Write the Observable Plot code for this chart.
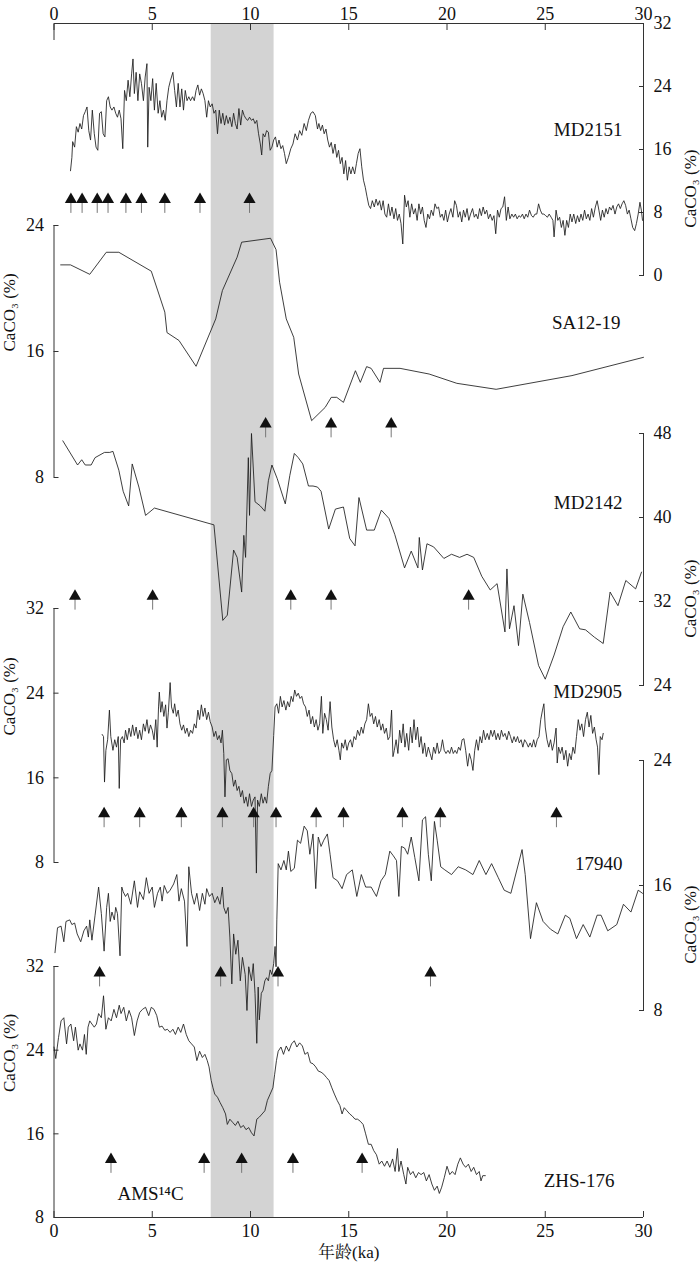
<!DOCTYPE html>
<html><head><meta charset="utf-8">
<script src="https://cdn.jsdelivr.net/npm/d3@7"></script>
<script src="https://cdn.jsdelivr.net/npm/@observablehq/plot@0.6"></script>
<style>
body{margin:0;background:#fff}
#chart{position:relative;width:700px;height:1266px;background:#fff}
#chart svg{position:absolute;left:0;top:0}
</style></head><body><div id="chart"></div>
<script>
// ---------------- DATA ----------------
const ageTicks = [0, 5, 10, 15, 20, 25, 30];
const bandAges = [[8, 11.2]];
const yTitle = "CaCO₃ (%)";
const xTitle = "年龄(ka)";

const md2151 = [[0.84,13.3],[0.91,15.0],[0.95,17.0],[1.05,16.3],[1.14,18.9],[1.23,18.2],[1.32,19.3],[1.41,18.6],[1.5,20.3],[1.59,20.8],[1.68,21.4],[1.77,18.4],[1.86,17.2],[1.95,21.0],[2.05,18.0],[2.14,16.3],[2.23,15.9],[2.32,20.6],[2.41,20.8],[2.5,18.0],[2.59,17.6],[2.68,22.2],[2.77,22.7],[2.86,21.4],[2.95,21.0],[3.05,21.4],[3.14,20.6],[3.23,20.1],[3.32,21.0],[3.41,19.9],[3.5,16.1],[3.59,23.5],[3.68,22.2],[3.77,24.8],[3.86,22.7],[3.95,25.6],[4.02,27.5],[4.09,23.1],[4.18,25.8],[4.27,22.2],[4.36,25.6],[4.45,24.4],[4.55,22.2],[4.64,25.2],[4.73,26.9],[4.77,16.3],[4.84,23.9],[4.93,22.2],[5.02,25.0],[5.11,21.0],[5.2,24.4],[5.3,20.6],[5.39,22.2],[5.48,20.1],[5.57,21.0],[5.66,19.7],[5.75,22.2],[5.84,23.9],[5.93,24.8],[6.05,25.8],[6.14,23.5],[6.23,21.4],[6.32,24.4],[6.41,21.4],[6.5,23.7],[6.59,21.0],[6.68,23.5],[6.77,22.2],[6.86,22.7],[6.95,22.2],[7.05,22.7],[7.14,22.2],[7.23,23.5],[7.32,24.2],[7.41,22.9],[7.5,23.7],[7.59,23.1],[7.68,22.2],[7.77,20.1],[7.86,22.2],[7.95,21.4],[8.05,21.8],[8.14,20.6],[8.23,21.0],[8.32,18.0],[8.41,21.0],[8.5,19.3],[8.59,20.6],[8.68,19.1],[8.77,20.3],[8.86,19.3],[8.95,20.1],[9.05,18.9],[9.14,20.6],[9.23,19.3],[9.32,18.6],[9.41,21.2],[9.5,19.1],[9.59,21.0],[9.68,20.3],[9.77,19.9],[9.86,19.7],[9.95,20.1],[10.05,19.7],[10.14,19.9],[10.23,19.3],[10.32,19.7],[10.41,18.0],[10.5,16.7],[10.57,15.3],[10.64,18.0],[10.73,17.6],[10.82,18.4],[10.91,18.2],[11.0,15.9],[11.09,16.3],[11.18,17.2],[11.27,17.6],[11.36,16.3],[11.45,17.2],[11.55,16.1],[11.64,16.5],[11.73,15.5],[11.82,14.2],[11.93,15.0],[12.05,16.1],[12.16,16.7],[12.27,18.0],[12.39,17.2],[12.5,18.4],[12.61,17.8],[12.73,19.3],[12.84,18.4],[12.95,19.7],[13.07,20.6],[13.18,20.8],[13.3,20.3],[13.41,18.6],[13.48,19.3],[13.57,18.4],[13.66,19.1],[13.75,18.0],[13.84,18.6],[13.93,17.2],[14.02,16.3],[14.11,16.9],[14.2,15.5],[14.3,16.7],[14.39,15.0],[14.48,15.9],[14.57,14.2],[14.66,15.0],[14.75,12.9],[14.84,14.6],[14.93,12.1],[15.02,13.8],[15.11,12.9],[15.2,13.8],[15.3,12.9],[15.39,14.2],[15.48,15.5],[15.57,16.1],[15.66,13.8],[15.75,12.1],[15.84,11.2],[15.93,10.0],[16.02,8.9],[16.11,8.5],[16.2,9.5],[16.3,8.7],[16.39,9.7],[16.48,8.9],[16.57,9.5],[16.66,8.3],[16.75,9.5],[16.84,7.8],[16.93,7.4],[17.02,9.1],[17.11,7.6],[17.2,8.7],[17.3,7.2],[17.39,8.5],[17.48,7.0],[17.57,7.8],[17.66,6.6],[17.75,4.0],[17.84,10.2],[17.93,8.7],[18.02,9.5],[18.11,7.4],[18.2,9.1],[18.3,7.8],[18.39,8.5],[18.48,7.0],[18.57,9.1],[18.66,7.8],[18.75,8.7],[18.84,7.0],[18.93,6.1],[19.02,7.8],[19.11,7.2],[19.2,8.3],[19.3,7.6],[19.39,9.1],[19.48,8.5],[19.57,8.7],[19.66,7.4],[19.75,7.8],[19.84,7.0],[19.93,8.3],[20.02,6.8],[20.11,7.8],[20.2,8.5],[20.3,7.4],[20.39,9.5],[20.48,8.9],[20.57,7.4],[20.66,8.1],[20.75,6.8],[20.84,8.3],[20.93,7.4],[21.02,8.5],[21.11,7.0],[21.2,7.8],[21.3,8.5],[21.39,7.4],[21.48,7.8],[21.57,7.2],[21.66,8.5],[21.75,7.6],[21.84,8.7],[21.93,7.8],[22.02,8.3],[22.11,7.2],[22.2,7.8],[22.3,7.0],[22.39,7.6],[22.48,5.3],[22.57,8.3],[22.66,7.4],[22.75,8.5],[22.84,8.7],[22.93,10.0],[23.02,7.0],[23.11,8.7],[23.2,7.2],[23.3,7.8],[23.39,7.4],[23.48,7.8],[23.57,7.2],[23.66,7.6],[23.75,7.4],[23.84,7.8],[23.93,7.2],[24.02,7.8],[24.11,7.4],[24.2,8.3],[24.3,7.6],[24.39,7.4],[24.48,7.8],[24.57,7.8],[24.66,9.1],[24.75,8.3],[24.84,7.8],[24.93,7.8],[25.02,7.6],[25.11,7.4],[25.2,7.8],[25.3,7.4],[25.39,7.0],[25.45,4.9],[25.55,8.3],[25.64,7.0],[25.73,7.4],[25.82,6.1],[25.91,7.0],[26.0,5.1],[26.09,7.0],[26.18,6.1],[26.27,7.8],[26.36,6.8],[26.45,7.8],[26.55,6.6],[26.64,7.6],[26.73,6.8],[26.82,7.8],[26.91,7.0],[27.0,8.3],[27.09,7.2],[27.18,7.8],[27.27,7.0],[27.36,8.5],[27.45,7.4],[27.55,8.7],[27.64,9.5],[27.73,8.3],[27.82,7.0],[27.91,8.3],[28.0,7.4],[28.09,8.5],[28.18,7.8],[28.27,8.7],[28.36,8.3],[28.45,8.9],[28.55,7.8],[28.64,8.7],[28.73,9.1],[28.82,8.5],[28.91,9.1],[29.0,9.5],[29.09,8.9],[29.18,7.8],[29.27,8.3],[29.36,7.2],[29.45,6.1],[29.55,5.7],[29.64,6.6],[29.73,7.8],[29.82,9.3],[29.89,8.3],[29.95,7.0]];

const sa1219 = [[0.34,21.5],[0.84,21.5],[1.82,20.9],[2.66,22.3],[3.3,22.3],[4.95,21.1],[5.27,19.9],[5.64,18.5],[5.75,17.2],[6.36,16.7],[7.23,15.06],[8.23,18.07],[8.57,19.87],[9.32,21.99],[9.55,22.94],[11.02,23.19],[11.3,22.47],[11.48,20.4],[11.82,18.07],[12.2,16.9],[12.45,14.57],[13.11,11.61],[13.8,12.45],[14.11,13.09],[14.39,13.09],[14.73,12.77],[15.34,14.78],[15.59,14.04],[15.91,15.04],[16.14,14.93],[16.59,14.04],[16.77,14.93],[17.61,14.93],[19.09,14.57],[20.5,13.98],[22.5,13.6],[26.36,14.47],[30,15.63]];

const md2142 = [[0.45,47.3],[1.2,45.0],[1.41,45.5],[1.59,45.0],[1.89,45.0],[2.09,45.7],[2.57,46.2],[2.84,46.2],[3.0,46.3],[3.3,44.5],[3.52,42.5],[3.8,41.1],[3.98,45.1],[4.32,42.9],[4.66,40.2],[5.11,40.9],[8.14,39.3],[8.59,30.2],[8.82,30.7],[9.14,36.9],[9.32,36.2],[9.55,32.9],[9.66,38.3],[9.75,36.2],[9.89,45.7],[9.95,40.2],[10.05,48.0],[10.23,41.5],[10.5,41.1],[10.73,40.6],[10.91,43.5],[11.09,45.0],[11.36,43.7],[11.77,41.3],[12.0,44.0],[12.23,46.1],[12.43,45.7],[12.66,45.1],[12.95,43.0],[13.18,43.0],[13.41,42.9],[13.59,42.5],[13.98,38.9],[14.32,40.8],[14.73,41.0],[15.05,38.0],[15.32,37.3],[15.52,41.9],[15.91,38.8],[16.3,38.8],[16.66,40.7],[17.05,39.9],[17.34,38.4],[17.84,35.2],[18.18,36.8],[18.52,35.2],[18.59,38.1],[18.75,35.0],[18.98,37.5],[19.32,37.2],[19.84,36.1],[20.23,36.5],[20.64,36.2],[21.02,36.5],[21.36,36.2],[21.77,34.4],[22.2,33.1],[22.55,33.7],[22.95,29.1],[23.05,35.1],[23.18,29.4],[23.41,31.6],[23.64,27.8],[23.86,32.7],[24.2,30.0],[24.66,25.9],[25.0,24.6],[25.45,26.9],[25.91,29.6],[26.3,31.0],[26.75,29.4],[27.05,29.3],[27.5,28.6],[27.95,28.0],[28.3,32.9],[28.7,31.6],[29.1,34.0],[29.6,33.2],[29.9,34.8]];

const md2905 = [[2.45,20.1],[2.52,19.9],[2.57,15.6],[2.64,18.6],[2.73,19.6],[2.82,22.4],[2.89,19.9],[3.0,18.6],[3.09,19.6],[3.18,18.9],[3.27,19.9],[3.32,15.0],[3.39,19.6],[3.48,19.9],[3.57,19.3],[3.64,20.5],[3.73,19.6],[3.82,20.7],[3.91,19.9],[4.0,21.0],[4.09,20.0],[4.18,20.8],[4.27,19.7],[4.36,20.5],[4.45,19.6],[4.55,21.1],[4.64,20.4],[4.73,21.5],[4.82,20.2],[4.91,21.0],[5.0,20.5],[5.09,19.6],[5.18,21.5],[5.25,18.9],[5.32,22.7],[5.36,24.1],[5.43,22.2],[5.5,23.2],[5.59,21.8],[5.68,22.9],[5.75,20.7],[5.82,22.2],[5.91,25.0],[5.98,22.7],[6.07,22.1],[6.14,23.0],[6.23,21.8],[6.32,22.4],[6.41,21.1],[6.5,20.5],[6.59,21.0],[6.68,20.2],[6.77,20.7],[6.86,19.9],[6.95,20.5],[7.05,20.2],[7.14,21.1],[7.23,20.7],[7.32,22.4],[7.41,21.5],[7.5,22.9],[7.59,21.8],[7.68,22.6],[7.77,21.5],[7.86,22.2],[7.95,21.3],[8.05,20.8],[8.14,19.9],[8.23,20.4],[8.32,19.6],[8.41,20.0],[8.5,19.3],[8.57,20.5],[8.64,18.3],[8.7,14.2],[8.77,17.7],[8.86,17.8],[8.95,16.7],[9.05,16.4],[9.14,15.2],[9.23,15.8],[9.32,14.8],[9.41,15.2],[9.5,14.2],[9.59,14.8],[9.68,13.6],[9.77,14.2],[9.86,13.3],[9.95,14.5],[10.05,13.3],[10.14,13.9],[10.23,14.2],[10.3,7.0],[10.36,13.9],[10.45,13.3],[10.55,14.5],[10.64,13.6],[10.73,14.2],[10.82,13.6],[10.91,15.2],[11.0,16.4],[11.09,16.7],[11.18,20.0],[11.25,22.7],[11.34,23.0],[11.43,22.1],[11.52,23.7],[11.61,22.7],[11.7,23.3],[11.8,22.4],[11.89,23.2],[11.98,22.7],[12.07,23.7],[12.16,23.2],[12.25,24.3],[12.34,23.7],[12.43,24.0],[12.52,23.5],[12.61,23.7],[12.7,23.0],[12.8,22.7],[12.89,21.8],[12.98,22.4],[13.07,21.1],[13.16,21.8],[13.25,20.8],[13.34,21.5],[13.43,20.5],[13.52,21.1],[13.61,23.7],[13.68,20.2],[13.77,22.1],[13.86,21.5],[13.95,20.5],[14.05,23.2],[14.14,20.8],[14.23,19.6],[14.32,18.9],[14.41,19.6],[14.5,18.6],[14.57,17.7],[14.64,19.3],[14.73,18.8],[14.82,19.6],[14.91,18.6],[15.0,19.3],[15.09,19.6],[15.18,18.9],[15.27,19.9],[15.36,19.6],[15.45,20.5],[15.55,20.0],[15.64,20.8],[15.73,20.2],[15.82,21.1],[15.91,21.5],[16.0,23.0],[16.09,21.8],[16.18,22.1],[16.27,21.1],[16.36,21.8],[16.45,20.8],[16.55,21.5],[16.64,20.5],[16.73,21.1],[16.82,20.2],[16.91,20.7],[17.0,19.6],[17.09,19.9],[17.18,22.4],[17.25,18.0],[17.32,18.6],[17.41,19.6],[17.5,18.3],[17.59,20.5],[17.68,19.3],[17.77,21.1],[17.86,18.9],[17.95,20.2],[18.05,18.6],[18.14,20.8],[18.23,19.3],[18.32,21.5],[18.41,19.6],[18.5,20.8],[18.59,18.9],[18.68,19.9],[18.77,18.3],[18.86,19.3],[18.95,18.0],[19.05,18.9],[19.14,18.3],[19.23,17.7],[19.32,18.9],[19.41,18.3],[19.5,19.3],[19.59,18.3],[19.68,18.6],[19.77,19.6],[19.86,18.6],[19.95,18.3],[20.05,18.6],[20.14,18.3],[20.23,18.9],[20.32,18.3],[20.41,18.6],[20.5,18.3],[20.59,18.9],[20.68,18.6],[20.77,19.6],[20.86,19.7],[20.95,18.6],[21.05,17.1],[21.14,18.3],[21.23,17.7],[21.32,16.7],[21.41,18.6],[21.5,19.6],[21.59,18.6],[21.68,19.9],[21.77,19.3],[21.86,20.5],[21.95,19.6],[22.05,20.2],[22.14,19.6],[22.23,20.5],[22.32,19.9],[22.41,20.5],[22.5,19.6],[22.59,20.2],[22.68,19.6],[22.77,20.5],[22.86,19.9],[22.95,20.2],[23.05,19.6],[23.14,20.4],[23.23,19.9],[23.32,19.3],[23.41,19.9],[23.5,19.4],[23.59,19.9],[23.68,19.3],[23.77,19.6],[23.86,18.9],[23.95,19.6],[24.05,19.3],[24.14,18.9],[24.23,19.3],[24.32,18.9],[24.41,19.6],[24.5,18.9],[24.59,19.6],[24.68,19.9],[24.77,21.5],[24.86,22.4],[24.93,23.0],[25.0,20.8],[25.09,19.6],[25.18,18.9],[25.27,19.6],[25.36,18.6],[25.45,19.3],[25.55,20.7],[25.61,17.4],[25.68,18.9],[25.77,18.3],[25.86,18.9],[25.95,17.7],[26.05,18.6],[26.14,17.1],[26.23,18.3],[26.32,17.7],[26.41,18.9],[26.5,18.3],[26.59,19.9],[26.68,21.5],[26.77,20.5],[26.86,21.1],[26.95,19.9],[27.05,21.5],[27.14,22.2],[27.23,20.8],[27.32,21.9],[27.41,20.2],[27.5,20.8],[27.59,19.6],[27.66,18.9],[27.73,16.3],[27.8,19.9],[27.89,19.6],[27.95,20.2]];

const c17940 = [[0.05,11.7],[0.18,13.3],[0.36,13.4],[0.5,12.4],[0.61,13.7],[0.8,13.8],[0.91,13.5],[1.05,13.6],[1.18,12.9],[1.36,12.4],[1.52,13.1],[1.66,13.4],[1.75,12.7],[1.82,13.8],[1.93,12.5],[2.09,14.1],[2.27,15.9],[2.41,14.2],[2.55,11.8],[2.68,14.6],[2.77,15.5],[2.86,13.7],[2.95,14.3],[3.07,13.8],[3.14,14.6],[3.23,14.2],[3.36,11.5],[3.45,15.9],[3.52,15.6],[3.64,15.3],[3.75,15.5],[3.91,14.8],[4.09,16.3],[4.25,14.6],[4.36,15.6],[4.55,15.1],[4.7,16.5],[4.84,15.5],[5.0,15.9],[5.11,14.6],[5.27,15.5],[5.41,15.9],[5.5,15.0],[5.61,16.0],[5.77,15.5],[5.91,15.7],[6.09,16.1],[6.25,16.7],[6.36,15.0],[6.48,15.8],[6.64,15.0],[6.77,12.1],[6.86,17.2],[7.0,15.5],[7.14,14.8],[7.27,15.5],[7.41,14.4],[7.55,15.5],[7.68,14.8],[7.77,15.8],[7.91,15.3],[8.05,15.5],[8.18,14.9],[8.32,15.3],[8.45,14.8],[8.57,15.9],[8.64,14.6],[8.75,14.2],[8.86,14.6],[8.95,12.7],[9.05,9.7],[9.14,12.9],[9.25,11.6],[9.36,12.5],[9.48,9.9],[9.59,11.4],[9.73,10.3],[9.82,8.0],[9.91,10.8],[10.05,9.9],[10.14,11.0],[10.23,9.1],[10.32,5.9],[10.39,9.5],[10.45,7.4],[10.55,9.1],[10.64,9.3],[10.73,9.9],[10.82,10.1],[10.91,9.9],[11.0,10.6],[11.09,10.3],[11.18,11.0],[11.25,12.1],[11.3,10.8],[11.34,13.8],[11.41,17.4],[11.55,17.0],[11.7,17.6],[11.82,17.0],[11.93,18.2],[12.05,16.9],[12.23,17.1],[12.39,18.9],[12.55,18.7],[12.73,19.8],[12.89,19.5],[13.02,18.0],[13.18,19.3],[13.32,15.8],[13.45,19.1],[13.59,18.5],[13.73,18.9],[13.91,19.3],[14.05,18.0],[14.2,16.5],[14.43,16.3],[14.66,15.8],[14.89,16.7],[15.18,17.0],[15.41,15.3],[15.64,16.7],[15.86,15.9],[16.14,15.9],[16.41,15.3],[16.64,16.3],[16.86,16.7],[17.09,18.2],[17.27,17.9],[17.43,17.6],[17.55,15.3],[17.68,18.5],[17.84,18.4],[18.0,18.0],[18.18,19.1],[18.36,17.8],[18.57,16.3],[18.75,20.2],[18.91,20.4],[19.05,18.0],[19.2,16.3],[19.36,20.1],[19.5,18.9],[19.68,17.2],[19.89,17.0],[20.23,16.7],[20.57,17.2],[20.95,17.0],[21.32,16.7],[21.64,17.6],[21.98,16.7],[22.27,17.4],[22.61,16.5],[22.91,15.7],[23.25,15.5],[23.82,18.3],[23.98,16.7],[24.25,12.6],[24.55,14.9],[24.89,13.7],[25.27,13.2],[25.64,12.9],[26.02,14.1],[26.25,13.9],[26.59,12.6],[26.93,13.5],[27.27,12.7],[27.64,14.1],[27.84,14.1],[28.18,13.1],[28.64,13.5],[28.98,14.8],[29.36,14.3],[29.73,15.7],[29.95,15.5]];

const zhs176 = [[0.0,24.3],[0.09,23.2],[0.23,25.2],[0.36,26.8],[0.5,27.1],[0.64,24.6],[0.73,26.2],[0.86,26.5],[1.0,24.9],[1.09,26.2],[1.23,24.0],[1.32,24.6],[1.45,24.0],[1.55,25.5],[1.64,23.6],[1.73,26.2],[1.82,26.8],[1.93,26.5],[2.05,26.2],[2.16,26.5],[2.27,27.5],[2.41,27.1],[2.52,29.2],[2.64,26.0],[2.77,27.1],[2.91,26.8],[3.05,27.9],[3.18,27.1],[3.32,28.3],[3.41,27.5],[3.55,28.1],[3.68,26.8],[3.82,27.8],[3.95,27.1],[4.09,25.4],[4.23,26.8],[4.36,27.6],[4.5,27.9],[4.66,28.1],[4.82,27.3],[4.95,28.1],[5.09,27.9],[5.23,27.3],[5.36,26.2],[5.5,26.3],[5.64,25.9],[5.77,26.0],[5.91,25.7],[6.05,26.0],[6.18,25.5],[6.32,26.2],[6.45,25.7],[6.59,26.5],[6.73,25.5],[6.86,24.9],[7.0,24.6],[7.14,24.3],[7.27,23.0],[7.41,23.9],[7.55,23.3],[7.68,23.6],[7.8,23.0],[7.89,22.4],[8.0,21.1],[8.09,20.4],[8.18,19.8],[8.32,19.5],[8.45,19.0],[8.59,18.5],[8.73,17.9],[8.82,16.9],[8.95,17.4],[9.09,17.1],[9.23,16.8],[9.36,17.2],[9.5,16.6],[9.64,16.8],[9.77,16.4],[9.91,16.6],[10.05,16.1],[10.18,15.8],[10.32,17.4],[10.45,17.6],[10.59,17.9],[10.73,18.2],[10.86,19.2],[11.0,19.8],[11.14,20.4],[11.23,21.7],[11.32,23.0],[11.41,23.9],[11.55,24.3],[11.68,23.6],[11.82,24.4],[11.95,23.9],[12.09,24.6],[12.23,24.9],[12.36,24.3],[12.5,24.7],[12.64,24.4],[12.77,23.6],[12.91,23.8],[13.05,22.8],[13.18,22.7],[13.32,22.4],[13.45,22.0],[13.59,21.9],[13.73,21.7],[13.86,21.4],[14.0,21.1],[14.14,20.4],[14.27,19.8],[14.41,19.2],[14.55,18.7],[14.66,17.9],[14.77,18.5],[14.91,18.2],[15.05,17.9],[15.18,17.7],[15.32,17.4],[15.45,17.4],[15.59,17.2],[15.73,16.9],[15.86,16.0],[16.0,15.0],[16.14,15.0],[16.27,14.4],[16.41,14.0],[16.55,13.1],[16.68,13.4],[16.82,12.9],[16.95,13.4],[17.09,12.8],[17.23,13.6],[17.36,12.4],[17.48,14.6],[17.55,12.4],[17.66,13.4],[17.8,12.1],[17.91,11.2],[18.0,12.8],[18.14,12.1],[18.27,12.4],[18.41,11.8],[18.55,12.3],[18.68,12.1],[18.82,12.3],[18.95,11.5],[19.09,12.1],[19.23,11.2],[19.36,10.6],[19.5,11.0],[19.61,10.3],[19.73,10.9],[19.86,11.8],[20.0,12.9],[20.14,12.1],[20.27,12.4],[20.41,12.1],[20.55,13.1],[20.68,13.7],[20.82,13.1],[20.95,12.8],[21.09,13.1],[21.23,12.4],[21.36,12.8],[21.5,12.1],[21.64,12.4],[21.73,11.5],[21.82,12.0],[21.95,12.0]];

// AMS 14C dated levels (ka) for each core
const datesMD2151 = [0.86, 1.43, 2.2, 2.75, 3.66, 4.45, 5.64, 7.43, 9.95];
const datesSA1219 = [10.77, 14.1, 17.16];
const datesMD2142 = [1.07, 5.02, 12.05, 14.1, 21.1];
const datesMD2905 = [2.55, 4.36, 6.48, 8.57, 10.16, 11.3, 13.34, 14.73, 17.73, 19.66, 25.57];
const dates17940 = [2.32, 8.48, 11.4, 19.16];
const datesZHS176 = [2.9, 7.64, 9.55, 12.16, 15.68];

// ---------------- LAYOUT ----------------
const W = 700, H = 1266, ML = 53.5, MR = 57;
const FONT = '"Liberation Serif","Times New Roman",serif';
const CJK = '"Liberation Serif","Noto Serif CJK SC","Noto Sans CJK SC",serif';
const INK = "#1c1c1c";
const stem = {draw(ctx, l) { ctx.moveTo(0, 0); ctx.lineTo(0, -l); }};

const panels = [
  {name: "MD2151", data: md2151, dates: datesMD2151, domain: [0, 32], ticks: [0, 8, 16, 24, 32], top: 23, bottom: 275, side: "right", arrowY: 9.65, nameX: 28.93, nameY: 18.5},
  {name: "SA12-19", data: sa1219, dates: datesSA1219, domain: [8, 24], ticks: [8, 16, 24], top: 225, bottom: 477, side: "left", arrowY: 11.4, nameX: 28.83, nameY: 17.8},
  {name: "MD2142", data: md2142, dates: datesMD2142, domain: [24, 48], ticks: [24, 32, 40, 48], top: 433, bottom: 685, side: "right", arrowY: 32.5, nameX: 28.93, nameY: 41.4},
  {name: "MD2905", data: md2905, dates: datesMD2905, domain: [8, 32], ticks: [8, 16, 24, 32], top: 608, bottom: 862, side: "left", arrowY: 12.6, nameX: 28.9, nameY: 24.1},
  {name: "17940", data: c17940, dates: dates17940, domain: [8, 24], ticks: [8, 16, 24], top: 760, bottom: 1010, side: "right", arrowY: 10.4, nameX: 28.93, nameY: 17.4},
  {name: "ZHS-176", data: zhs176, dates: datesZHS176, domain: [8, 32], ticks: [8, 16, 24, 32], top: 966, bottom: 1217, side: "left", arrowY: 13.55, nameX: 28.52, nameY: 11.5, extra: {text: "AMS¹⁴C", x: 3.23, y: 10.3}}
];

const chart = document.getElementById("chart");
const common = {width: W, height: H, marginLeft: ML, marginRight: MR, style: {background: "none", fontFamily: FONT, color: "#111"}};

// base: shaded interval + age axes
chart.append(Plot.plot({
  ...common,
  marginTop: 23, marginBottom: H - 1217,
  x: {domain: [0, 30]},
  y: {domain: [0, 1], axis: null},
  marks: [
    Plot.rect(bandAges, {x1: d => d[0], x2: d => d[1], y1: 0, y2: 1, fill: "#d3d3d3"}),
    Plot.ruleY([0, 1], {stroke: "#333", strokeWidth: 1}),
    Plot.axisX({anchor: "top", ticks: ageTicks, tickSize: -6, tickPadding: 10, fontSize: 18, fontFamily: FONT, label: null, stroke: "#333"}),
    Plot.axisX({anchor: "top", ticks: [0], tickSize: -16, text: null, label: null, stroke: "#333"}),
    Plot.axisX({anchor: "bottom", ticks: ageTicks, tickSize: -6, tickPadding: 13, fontSize: 18, fontFamily: FONT, label: null, stroke: "#333"}),
    Plot.text([xTitle], {frameAnchor: "bottom", dy: 40, text: d => d, fontSize: 17, fontFamily: CJK})
  ]
}));

for (const p of panels) {
  const edge = p.side === "left" ? 0 : 30;
  const marks = [
    Plot.ruleX([edge], {y1: p.domain[0], y2: p.domain[1], stroke: "#333", strokeWidth: 1}),
    Plot.axisY({anchor: p.side, ticks: p.ticks, tickSize: -5, tickPadding: 15, fontSize: 18, fontFamily: FONT, label: null, stroke: "#333"}),
    Plot.text([yTitle], {frameAnchor: p.side, rotate: -90, dx: p.side === "left" ? -44.5 : 47, text: d => d, fontSize: 17, fontFamily: FONT}),
    Plot.line(p.data, {x: d => d[0], y: d => d[1], stroke: INK, strokeWidth: 0.85}),
    Plot.vector(p.dates, {x: d => d, y: p.arrowY, length: 13, rotate: 180, anchor: "start", shape: stem, stroke: "#777", strokeWidth: 1}),
    Plot.dot(p.dates, {x: d => d, y: p.arrowY, symbol: "triangle", r: 4.5, fill: "#111", stroke: "none"}),
    Plot.text([p.name], {x: p.nameX, y: p.nameY, text: d => d, textAnchor: "end", fontSize: 19, fontFamily: FONT})
  ];
  if (p.extra) marks.push(Plot.text([p.extra.text], {x: p.extra.x, y: p.extra.y, text: d => d, textAnchor: "start", fontSize: 19, fontFamily: FONT}));
  chart.append(Plot.plot({
    ...common,
    marginTop: p.top, marginBottom: H - p.bottom,
    x: {domain: [0, 30], axis: null},
    y: {domain: p.domain},
    marks
  }));
}
</script></body></html>
